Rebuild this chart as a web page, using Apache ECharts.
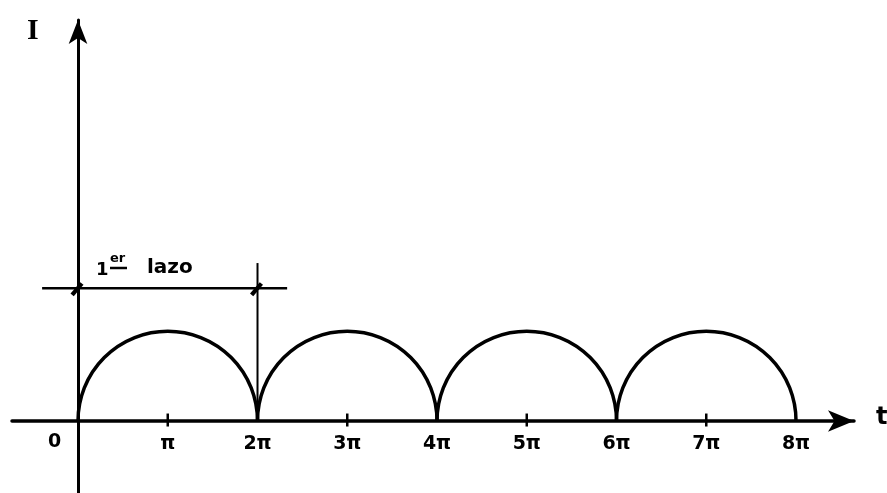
<!DOCTYPE html>
<html>
<head>
<meta charset="utf-8">
<script src="https://cdn.jsdelivr.net/npm/echarts@6/dist/echarts.min.js"></script>
<style>html,body{margin:0;padding:0;background:#fff}#c{width:887px;height:493px}</style>
</head>
<body>
<div id="c"></div>
<script>
// values in units of π
const tickValues = [1, 2, 3, 4, 5, 6, 7, 8];
const tickLabels = ['π', '2π', '3π', '4π', '5π', '6π', '7π', '8π'];
const minorTicks = [1, 3, 5, 7];
const arcStart = [0, 2, 4, 6];
const arcEnd = [2, 4, 6, 8];
const arcPeak = [1, 1, 1, 1];
const spanLineX = [-0.4, 2.33];
const spanLineY = 1.48;
const spanMarkX = [0, 2];
const spanVerticalTop = 1.76;

const arcData = arcStart.map((s, i) => [s, arcEnd[i], arcPeak[i]]);
const FONT = '"DejaVu Sans", sans-serif';

const chart = echarts.init(document.getElementById('c'));
chart.setOption({
  animation: false,
  backgroundColor: '#fff',
  grid: { left: 12, right: 33, top: 20, bottom: 0, containLabel: false, outerBoundsMode: 'none' },
  xAxis: {
    type: 'value', min: -0.7354, max: 8.646,
    splitLine: { show: false },
    axisLine: { onZero: true, symbol: ['none', 'arrow'], symbolSize: [16, 26],
      lineStyle: { color: '#000', width: 3.5 } },
    axisTick: { show: false },
    axisLabel: { show: false }
  },
  yAxis: {
    type: 'value', min: -0.802, max: 4.468,
    splitLine: { show: false },
    axisLine: { onZero: true, symbol: ['none', 'arrow'], symbolSize: [14, 24],
      lineStyle: { color: '#000', width: 3 } },
    axisTick: { show: false },
    axisLabel: { show: false }
  },
  series: [
    {
      type: 'custom', data: arcData, clip: false,
      renderItem: (params, api) => {
        const s = api.value(0), e = api.value(1), h = api.value(2);
        const p0 = api.coord([s, 0]), p1 = api.coord([e, 0]), pc = api.coord([(s + e) / 2, h]);
        const rx = (p1[0] - p0[0]) / 2, ry = p0[1] - pc[1];
        return {
          type: 'path',
          shape: { pathData: 'M' + p0[0] + ' ' + p0[1] + ' A' + rx + ' ' + ry + ' 0 0 1 ' + p1[0] + ' ' + p1[1] },
          style: { fill: 'none', stroke: '#000', lineWidth: 3.5 }
        };
      }
    },
    {
      type: 'line', symbol: 'none', silent: true,
      data: spanLineX.map(x => [x, spanLineY]),
      lineStyle: { color: '#000', width: 2.5 }
    },
    {
      type: 'line', symbol: 'none', silent: true,
      data: [[spanMarkX[1], 0], [spanMarkX[1], spanVerticalTop]],
      lineStyle: { color: '#000', width: 2 }
    },
    {
      type: 'scatter', silent: true,
      data: spanMarkX.map(x => [x, spanLineY]),
      symbol: 'path://M0 11 L9 0 L12 2.5 L3 13.5 Z', symbolSize: [13, 14], symbolOffset: [-1, 1],
      itemStyle: { color: '#000', opacity: 1 }
    },
    {
      type: 'scatter', silent: true,
      data: minorTicks.map(x => [x, 0]),
      symbol: 'rect', symbolSize: [2.5, 13], symbolOffset: [0, -1],
      itemStyle: { color: '#000', opacity: 1 }
    },
    {
      type: 'scatter', silent: true,
      data: tickValues.map((x, i) => ({ value: [x, 0], name: tickLabels[i] })),
      symbolSize: 0,
      itemStyle: { color: '#000', opacity: 1 },
      label: { show: true, position: 'bottom', distance: 14, formatter: '{b}',
        color: '#000', fontFamily: FONT, fontWeight: 'bold', fontSize: 19, textBorderWidth: 0 }
    }
  ],
  graphic: [
    { type: 'text', left: 27, top: 16, style: { text: 'I', font: 'bold 30px "Liberation Serif", serif', fill: '#000' } },
    { type: 'text', left: 876, top: 406, style: { text: 't', font: 'bold 24px ' + FONT, fill: '#000' } },
    { type: 'text', left: 48, top: 433, style: { text: '0', font: 'bold 19px ' + FONT, fill: '#000' } },
    { type: 'text', left: 96, top: 261, style: { text: '1', font: 'bold 18px ' + FONT, fill: '#000' } },
    { type: 'text', left: 110, top: 252, style: { text: 'er', font: 'bold 13px ' + FONT, fill: '#000' } },
    { type: 'line', shape: { x1: 110, y1: 268, x2: 127, y2: 268 }, style: { stroke: '#000', lineWidth: 2.5 } },
    { type: 'text', left: 147, top: 258, style: { text: 'lazo', font: 'bold 20px ' + FONT, fill: '#000' } }
  ]
});
</script>
</body>
</html>
